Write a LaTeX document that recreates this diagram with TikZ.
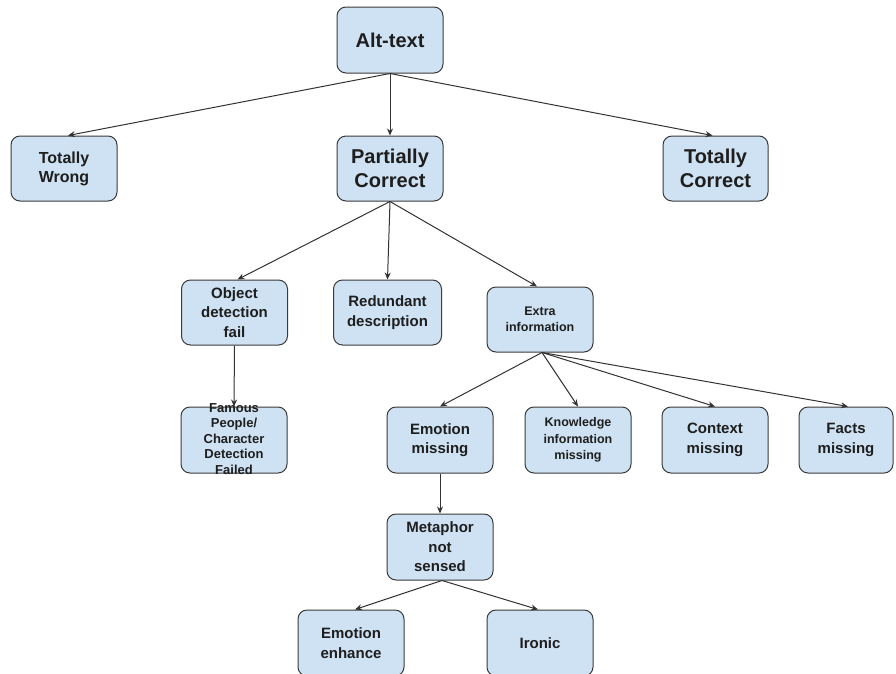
\documentclass[tikz,border=0pt]{standalone}
\usepackage{fontspec}
\setmainfont{Liberation Sans}
\usetikzlibrary{arrows.meta}
\definecolor{boxfill}{HTML}{CFE2F3}
\definecolor{boxline}{HTML}{3A3A3A}
\definecolor{txt}{HTML}{1E1E1E}
\definecolor{arrcol}{HTML}{333333}
\tikzset{
  box/.style={draw=boxline, fill=boxfill, rounded corners=9pt, line width=1pt,
    minimum width=106pt, minimum height=65pt, align=center, inner sep=0pt,
    text=txt},
  fbig/.style={font=\bfseries\fontsize{20}{23.5}\selectfont},
  fmid/.style={font=\bfseries\fontsize{16}{19}\selectfont},
  fnorm/.style={font=\bfseries\fontsize{15}{19.5}\selectfont},
  fsmall/.style={font=\bfseries\fontsize{12.5}{16.5}\selectfont},
  ftiny/.style={font=\bfseries\fontsize{13}{15.5}\selectfont},
  arr/.style={draw=arrcol, line width=1pt, -{Stealth[length=7pt,width=6pt]}}
}
\begin{document}
\begin{tikzpicture}[x=1pt,y=-1pt]
\fill[white] (0,0) rectangle (896,673);
\useasboundingbox (0,0) rectangle (896,673);

\node[box,fbig,minimum height=66pt] (alt) at (390,40) {Alt-text};
\node[box,fmid] (tw) at (64,168.5) {Totally\\Wrong};
\node[box,fbig] (pc) at (390,168.5) {Partially\\Correct};
\node[box,fbig,minimum width=105pt] (tc) at (715.5,168.5) {Totally\\Correct};

\node[box,fnorm] (odf) at (234.5,312.5) {Object\\detection\\fail};
\node[box,fnorm,minimum width=108pt] (red) at (387.5,312.5) {Redundant\\description};
\node[box,fsmall] (ext) at (540,319.5) {Extra\\information};

\node[box,minimum height=66pt] (fam) at (234,440) {};
\node[ftiny,align=center,text=txt] (famtext) at (234,439) {Famous\\People/\\Character\\Detection\\Failed};
\node[box,fnorm,minimum height=66pt] (emo) at (440,440) {Emotion\\missing};
\node[box,fsmall,minimum height=66pt] (kno) at (578,440) {Knowledge\\information\\missing};
\node[box,fnorm,minimum height=66pt] (ctx) at (715,440) {Context\\missing};
\node[box,fnorm,minimum height=66pt,minimum width=94pt] (fac) at (846,440) {Facts\\missing};

\node[box,fnorm,minimum height=66pt] (met) at (440,547) {Metaphor\\not\\sensed};
\node[box,fnorm,minimum height=66pt] (enh) at (351,643) {Emotion\\enhance};
\node[box,fnorm,minimum height=66pt] (iro) at (540,643) {Ironic};

\draw[arr] (alt.south) -- ([xshift=4pt]tw.north);
\draw[arr] (alt.south) -- (pc.north);
\draw[arr] (alt.south) -- ([xshift=-3pt]tc.north);

\draw[arr] (pc.south) -- ([xshift=3pt]odf.north);
\draw[arr] (pc.south) -- (red.north);
\draw[arr] (pc.south) -- ([xshift=-3pt]ext.north);

\draw[arr] (odf.south) -- (fam.north);

\draw[arr] ([xshift=2pt]ext.south) -- (emo.north);
\draw[arr] ([xshift=2pt]ext.south) -- (kno.north);
\draw[arr] ([xshift=2pt]ext.south) -- (ctx.north);
\draw[arr] ([xshift=2pt]ext.south) -- ([xshift=2pt]fac.north);

\draw[arr] (emo.south) -- (met.north);
\draw[arr] ([xshift=2pt]met.south) -- ([xshift=4pt]enh.north);
\draw[arr] ([xshift=2pt]met.south) -- ([xshift=-2pt]iro.north);
\end{tikzpicture}
\end{document}
